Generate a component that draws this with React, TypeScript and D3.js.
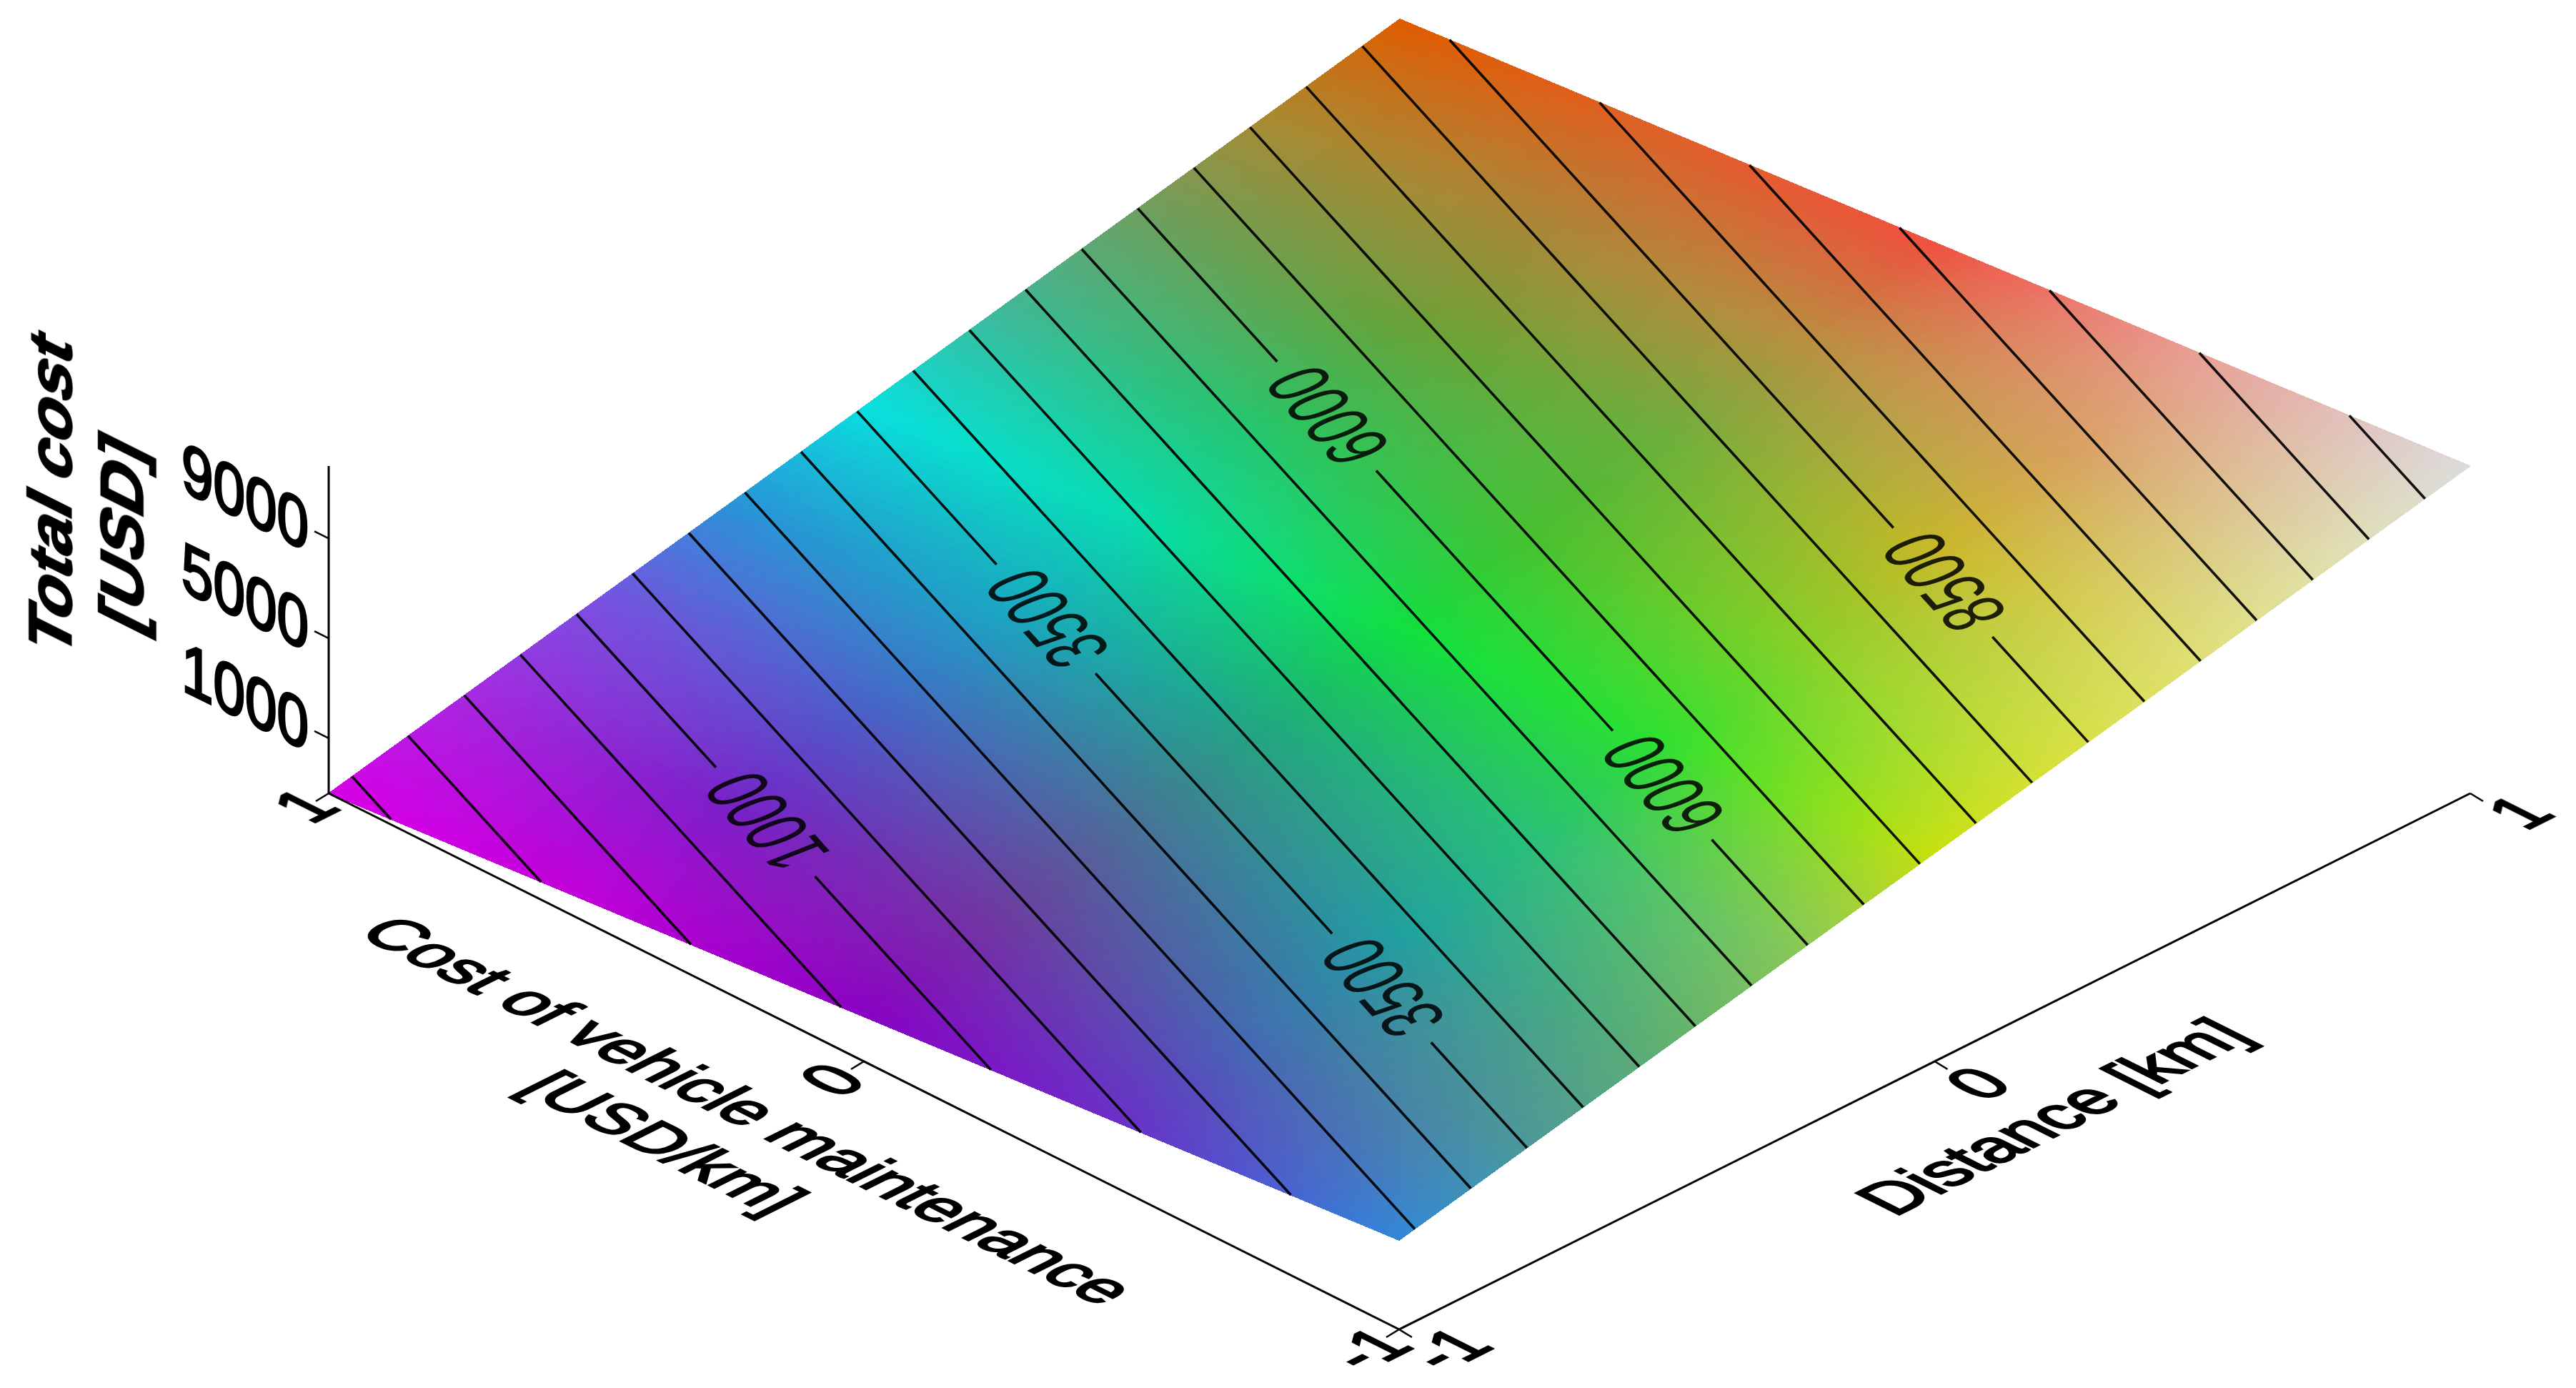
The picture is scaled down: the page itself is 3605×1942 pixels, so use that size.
import React from "react";
import * as d3 from "d3";

// ---- data ----
const maintenanceTicks = [1, 0, -1];
const distanceTicks = [1, 0, -1];
const costTicks = [1000, 5000, 9000];
const costDomain = [-1208, 11903];
// total cost at the four corners of the surface (u = maintenance, v = distance)
const costAtMinMin = 2361; // u=-1, v=-1
const costPerMaintenance = -3569 / 2; // per unit u
const costPerDistance = 9542 / 2; // per unit v
const contourStep = 500;
const labelledContours = [
  { level: 1000, u: 0.436 },
  { level: 3500, u: 0.436 },
  { level: 6000, u: 0.436 },
  { level: 3500, u: -0.566 },
  { level: 6000, u: -0.566 },
  { level: 8500, u: -0.566 },
];
// surface colours: rows run along distance (-1 to 1), columns along maintenance (1 to -1)
const colourRows = [
  ["#d800e8", "#c000d8", "#8a00c4", "#6a30c8", "#3088d8"],
  ["#a828e0", "#7a20c8", "#7038a0", "#4070b0", "#4c9a98"],
  ["#7a50e0", "#4a60c8", "#4a7098", "#20a0a0", "#60b070"],
  ["#2a92d8", "#1ca4c4", "#20a880", "#28c078", "#88c858"],
  ["#08e0e0", "#08dcb0", "#10e040", "#30e030", "#c8e010"],
  ["#3fb89a", "#28c468", "#48c030", "#88d028", "#d8e040"],
  ["#6aa062", "#68a238", "#6cb03c", "#c8b828", "#e0e078"],
  ["#a88a30", "#a88838", "#b89040", "#d8a060", "#e0e0b0"],
  ["#e05c00", "#e06028", "#f05040", "#e8a098", "#dcdcdc"],
];
const zTitleLines = ["Total cost", "[USD]"];
const maintenanceTitleLines = ["Cost of vehicle maintenance", "[USD/km]"];
const distanceTitle = "Distance [km]";

// ---- layout ----
const W = 3605, H = 1942;
const cornerLeft = [460, 1110];
const cornerBottom = [1958, 1860];
const cornerRight = [3457, 1110];
const zAxisTop = 652;

const uToT = d3.scaleLinear().domain([-1, 1]).range([0, 1]);
const vToT = d3.scaleLinear().domain([-1, 1]).range([0, 1]);
const zScale = d3.scaleLinear().domain(costDomain).range([cornerLeft[1], zAxisTop]);

function project(u: number, v: number, z: number): [number, number] {
  const a = uToT(u), b = vToT(v);
  const x = cornerBottom[0] + a * (cornerLeft[0] - cornerBottom[0]) + b * (cornerRight[0] - cornerBottom[0]);
  const y = cornerBottom[1] + a * (cornerLeft[1] - cornerBottom[1]) + b * (cornerRight[1] - cornerBottom[1]);
  return [x, y + zScale(z) - zScale(costDomain[0])];
}
const cost = (u: number, v: number) => costAtMinMin + (u + 1) * costPerMaintenance + (v + 1) * costPerDistance;

const rowPos = d3.scaleLinear().domain([-1, 1]).range([0, colourRows.length - 1]);
const colPos = d3.scaleLinear().domain([1, -1]).range([0, colourRows[0].length - 1]);
function colourAt(u: number, v: number): string {
  const r = rowPos(v), c = colPos(u);
  const r0 = Math.min(Math.floor(r), colourRows.length - 2), c0 = Math.min(Math.floor(c), colourRows[0].length - 2);
  const fr = r - r0, fc = c - c0;
  const top = d3.interpolateRgb(colourRows[r0][c0], colourRows[r0][c0 + 1])(fc);
  const bot = d3.interpolateRgb(colourRows[r0 + 1][c0], colourRows[r0 + 1][c0 + 1])(fc);
  return d3.interpolateRgb(top, bot)(fr);
}

const N = 130;
const grid = d3.range(N);
const gu = d3.scaleLinear().domain([0, N]).range([1, -1]);
const gv = d3.scaleLinear().domain([0, N]).range([-1, 1]);

const lineGen = d3.line();
const FS = 100;
const FONT = "'Liberation Sans', Arial, sans-serif";

function mat(ax: number, ay: number, bx: number, by: number, x: number, y: number) {
  return `matrix(${ax / FS},${ay / FS},${bx / FS},${by / FS},${x},${y})`;
}
// projected text planes (pixels per em)
const tickPlane = [80, -40, 88, 44];
const costPlane = [80, 39, 0, 99];
const maintPlane = [83, 41.5, -83, 41.5];
const zTitlePlane = [0, -95, 84, 42];
const contourPlane = [-48.6, -54, 110, -43];

export default function App() {
  const contourLevels = d3.range(-1000, costDomain[1], contourStep);
  const contourPaths = contourLevels.map((level) => {
    const vAt = (u: number) => -1 + (level - costAtMinMin - (u + 1) * costPerMaintenance) / costPerDistance;
    const uAt = (v: number) => -1 + (level - costAtMinMin - (v + 1) * costPerDistance) / costPerMaintenance;
    const ends: [number, number][] = [];
    [1, -1].forEach((u) => { const v = vAt(u); if (v >= -1 && v <= 1) ends.push([u, v]); });
    [-1, 1].forEach((v) => { const u = uAt(v); if (u > -1 && u < 1) ends.push([u, v]); });
    if (ends.length < 2) return null;
    const p0 = project(ends[0][0], ends[0][1], level);
    const p1 = project(ends[1][0], ends[1][1], level);
    const [a, b] = p0[1] < p1[1] ? [p0, p1] : [p1, p0];
    const len = Math.hypot(b[0] - a[0], b[1] - a[1]);
    const dir = [(b[0] - a[0]) / len, (b[1] - a[1]) / len];
    const spots = labelledContours
      .filter((l) => l.level === level)
      .map((l) => project(l.u, vAt(l.u), level))
      .sort((p, q) => p[1] - q[1]);
    const segs: [number, number][][] = [];
    let start: [number, number] = a as [number, number];
    spots.forEach((c) => {
      segs.push([start, [c[0] - dir[0] * 103, c[1] - dir[1] * 103]]);
      start = [c[0] + dir[0] * 103, c[1] + dir[1] * 103];
    });
    segs.push([start, b as [number, number]]);
    return segs.map((s) => lineGen(s)).join("");
  });

  const leftAxis = lineGen([cornerLeft, cornerBottom] as [number, number][]);
  const rightAxis = lineGen([cornerBottom, cornerRight] as [number, number][]);
  const zAxis = lineGen([[cornerLeft[0], zScale(costDomain[0])], [cornerLeft[0], zScale(costDomain[1])]]);

  const tickMarks: string[] = [];
  maintenanceTicks.forEach((u) => {
    const p = project(u, -1, costDomain[0]);
    tickMarks.push(lineGen([p, [p[0] - 18, p[1] + 11]])!);
  });
  distanceTicks.forEach((v) => {
    const p = project(-1, v, costDomain[0]);
    tickMarks.push(lineGen([p, [p[0] + 18, p[1] + 11]])!);
  });
  costTicks.forEach((z) => {
    tickMarks.push(lineGen([[cornerLeft[0], zScale(z)], [cornerLeft[0] - 20, zScale(z) - 10]])!);
  });

  const maintOffsets: Record<string, [number, number]> = { "1": [-34, 17], "0": [-46, 25], "-1": [-44, 27] };
  const distOffsets: Record<string, [number, number]> = { "1": [68, 26], "0": [59, 30], "-1": [68, 27] };

  const label = (txt: string, plane: number[], x: number, y: number, extra: any = {}) => (
    <text
      key={txt + x + y}
      transform={mat(plane[0], plane[1], plane[2], plane[3], x, y)}
      fontFamily={FONT}
      fontSize={FS}
      fill="#000"
      {...extra}
    >
      {txt}
    </text>
  );

  return (
    <svg
      width={W}
      height={H}
      viewBox={`0 0 ${W} ${H}`}
      style={{ position: "absolute", left: 0, top: 0, display: "block", background: "#fff" }}
    >
      <defs>
        <filter id="soft" x="-5%" y="-5%" width="110%" height="110%">
          <feGaussianBlur stdDeviation="0.7" />
        </filter>
      </defs>
      <g shapeRendering="crispEdges">
        {grid.map((i) =>
          grid.map((j) => {
            const u0 = gu(i), u1 = gu(i + 1), v0 = gv(j), v1 = gv(j + 1);
            const pts = [
              project(u0, v0, cost(u0, v0)),
              project(u1, v0, cost(u1, v0)),
              project(u1, v1, cost(u1, v1)),
              project(u0, v1, cost(u0, v1)),
            ];
            const col = colourAt((u0 + u1) / 2, (v0 + v1) / 2);
            return <path key={i + "-" + j} d={lineGen(pts)! + "Z"} fill={col} stroke={col} strokeWidth={1.2} />;
          })
        )}
      </g>
      <g filter="url(#soft)">
        <g fill="none" stroke="#000" strokeOpacity={0.92} strokeWidth={3.6}>
          {contourPaths.map((d, i) => (d ? <path key={i} d={d} /> : null))}
        </g>
        <g fill="none" stroke="#000" strokeWidth={3}>
          <path d={leftAxis!} />
          <path d={rightAxis!} />
          <path d={zAxis!} />
          {tickMarks.map((d, i) => (
            <path key={i} d={d} strokeWidth={2.5} />
          ))}
        </g>
        <g>
          {labelledContours.map((l) => {
            const v = -1 + (l.level - costAtMinMin - (l.u + 1) * costPerMaintenance) / costPerDistance;
            const p = project(l.u, v, l.level);
            return (
              <text
                key={l.level + "_" + l.u}
                transform={mat(contourPlane[0], contourPlane[1], contourPlane[2], contourPlane[3], p[0], p[1])}
                fontFamily={FONT}
                fontSize={FS}
                textAnchor="middle"
                y={36}
                fill="#000"
                fillOpacity={0.85}
              >
                {l.level}
              </text>
            );
          })}
        </g>
        <g stroke="#000" strokeWidth={3.5}>
          {costTicks.map((z) =>
            label(String(z), costPlane, 432, zScale(z) + 19, { textAnchor: "end" })
          )}
          {maintenanceTicks.map((u) => {
            const p = project(u, -1, costDomain[0]);
            const o = maintOffsets[String(u)];
            return label(String(u), tickPlane, p[0] + o[0], p[1] + o[1], { textAnchor: "middle", y: 36 });
          })}
          {distanceTicks.map((v) => {
            const p = project(-1, v, costDomain[0]);
            const o = distOffsets[String(v)];
            return label(String(v), tickPlane, p[0] + o[0], p[1] + o[1], { textAnchor: "middle", y: 36 });
          })}
          {label(distanceTitle, [83, -41.5, 88, 44], 2651, 1703)}
          {label(maintenanceTitleLines[0], maintPlane, 498, 1307)}
          {label(maintenanceTitleLines[1], maintPlane, 724, 1524)}
        </g>
        <g stroke="#000" strokeWidth={2.5}>
          {label(zTitleLines[0], zTitlePlane, 100, 925, { fontWeight: "bold" })}
          {label(zTitleLines[1], zTitlePlane, 200, 892, { fontWeight: "bold" })}
        </g>
      </g>
    </svg>
  );
}
